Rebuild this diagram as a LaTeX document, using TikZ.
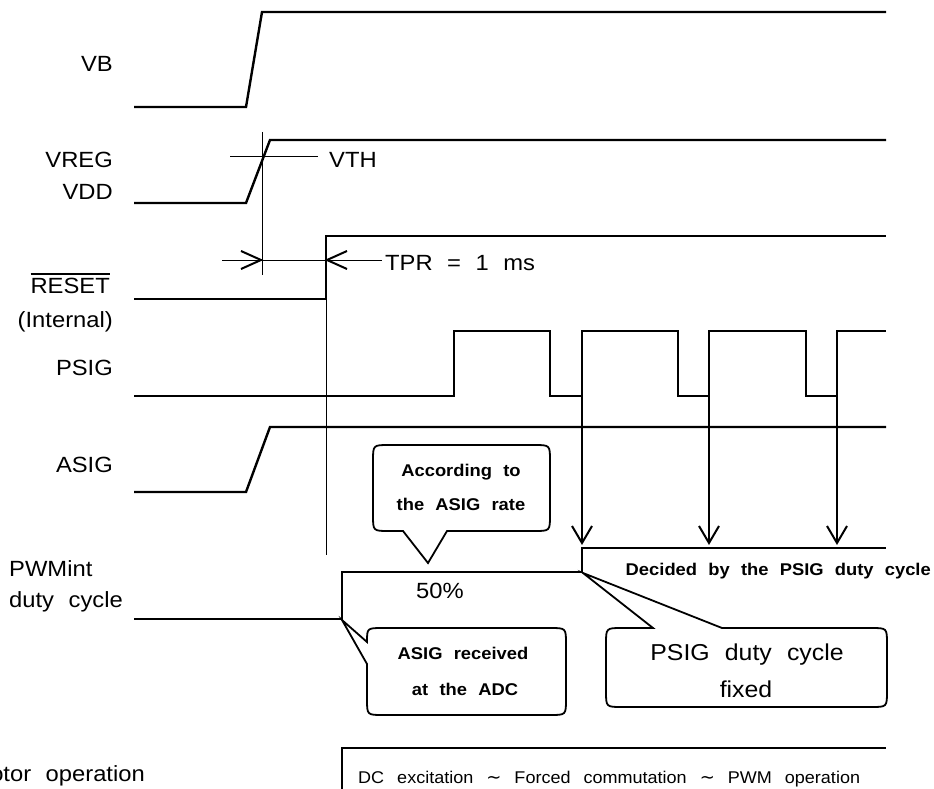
\documentclass[tikz,border=0pt]{standalone}
\usepackage{fontspec}
\setmainfont{Liberation Sans}[WordSpace=2.2, FakeStretch=1.08]
\newfontfamily\widesp{Liberation Sans}[WordSpace=2.6, FakeStretch=1.06]
\newfontfamily\symfont{DejaVu Sans}
\newcommand\myovl[1]{\setbox0\hbox{#1}\rlap{\rule[\dimexpr\ht0+3pt\relax]{\wd0}{1.3pt}}\box0}
\newcommand\mytilde{{\symfont\fontsize{18}{20}\selectfont ∼}}
\begin{document}
\begin{tikzpicture}[x=1pt,y=-1pt, line join=miter,
  sig/.style={line width=2.4pt},
  thinline/.style={line width=0.9pt},
  bubble/.style={line width=1.8pt},
  tiphead/.style={line width=2pt},
  lbl/.style={inner sep=0pt, font=\fontsize{22}{26}\selectfont},
  bold/.style={inner sep=0pt, font=\fontsize{17}{20}\selectfont\bfseries},
  big/.style={inner sep=0pt, font=\fontsize{23}{27}\selectfont}]
\useasboundingbox (0,0) rectangle (934,789);
\clip (0,0) rectangle (934,789);
\fill[white] (0,0) rectangle (934,789);

% signal labels
\node[lbl, anchor=base east] (lvb) at (113,72) {VB};
\node[lbl, anchor=base east] (lvreg) at (113,167) {VREG};
\node[lbl, anchor=base east] (lvdd) at (113,199) {VDD};
\node[lbl, anchor=base east] (lrst) at (110,293) {\myovl{RESET}};
\node[lbl, anchor=base east] (lint) at (113,327) {(Internal)};
\node[lbl, anchor=base east] (lpsig) at (113,375) {PSIG};
\node[lbl, anchor=base east] (lasig) at (113,472) {ASIG};
\node[lbl, anchor=base west] (lpwm) at (9,576) {PWMint};
\node[lbl, anchor=base west] (lduty) at (9,607) {duty cycle};
\node[lbl, anchor=base east] (lmot) at (145,781) {Motor operation};

% waveforms
\draw[sig] (134,107) -- (246,107) -- (262,12) -- (886,12);
\draw[sig] (134,203) -- (246,203) -- (270,140) -- (886,140);
\draw[sig] (134,299) -- (326,299) -- (326,236) -- (886,236);
\draw[sig] (134,396) -- (454,396) -- (454,331) -- (550,331) -- (550,396) -- (582,396)
  -- (582,331) -- (678,331) -- (678,396) -- (709,396) -- (709,331) -- (806,331)
  -- (806,396) -- (837,396) -- (837,331) -- (886,331);
\draw[sig] (134,492) -- (246,492) -- (270,427) -- (886,427);
\draw[sig] (134,619) -- (342,619) -- (342,572) -- (582,572) -- (582,548) -- (886,548);
\draw[sig] (342,795) -- (342,748) -- (886,748);

% VTH and TPR markers
\draw[thinline] (230,156) -- (318,156);
\draw[thinline] (262,132) -- (262,275);
\draw[thinline] (222,260) -- (382,260);
\draw[thinline] (326,299) -- (326,555);
\draw[tiphead] (241,251) -- (261,260) -- (241,269);
\draw[tiphead] (347,251) -- (327,260) -- (347,269);
\node[lbl, anchor=base west] (vth) at (329,167) {VTH};
\node[lbl, anchor=base west] (tpr) at (385,270) {TPR = 1 ms};

% PSIG edge arrows
\foreach \xx in {582,709,837} {
  \draw[sig] (\xx,396) -- (\xx,542);
  \draw[tiphead] (\xx-10,526) -- (\xx,543) -- (\xx+10,526);
}

% PWMint texts
\node[lbl, anchor=base] (fifty) at (440,598) {50\%};
\node[bold, anchor=base east] (dec) at (931,575) {Decided by the PSIG duty cycle};

% callout 1
\draw[bubble] (403,531) -- (428,563) -- (447,531) -- (534,531) .. controls (550,531) .. (550,515)
  -- (550,461) .. controls (550,445) .. (534,445) -- (389,445) .. controls (373,445) .. (373,461)
  -- (373,515) .. controls (373,531) .. (389,531) -- cycle;
\node[bold, anchor=base] (c1a) at (461,476) {According to};
\node[bold, anchor=base] (c1b) at (461,510) {the ASIG rate};

% callout 2
\draw[bubble] (367,642) -- (342,620) -- (367,664) -- (367,699) .. controls (367,715) .. (383,715)
  -- (550,715) .. controls (566,715) .. (566,699) -- (566,644) .. controls (566,628) .. (550,628)
  -- (383,628) .. controls (367,628) .. (367,642) -- cycle;
\node[bold, anchor=base] (c2a) at (463,659) {ASIG received};
\node[bold, anchor=base] (c2b) at (465,695) {at the ADC};

% callout 3
\draw[bubble] (653,628) -- (583,573) -- (722,628) -- (871,628) .. controls (887,628) .. (887,644)
  -- (887,691) .. controls (887,707) .. (871,707) -- (622,707) .. controls (606,707) .. (606,691)
  -- (606,644) .. controls (606,628) .. (622,628) -- cycle;
\node[big, anchor=base] (c3a) at (747,660) {PSIG duty cycle};
\node[big, anchor=base] (c3b) at (746,697) {fixed};

% motor operation text
\node[inner sep=0pt, anchor=base west, font=\widesp\fontsize{17}{20}\selectfont] (mot) at (358,783)
  {DC excitation \mytilde{} Forced commutation \mytilde{} PWM operation};
\end{tikzpicture}
\end{document}
